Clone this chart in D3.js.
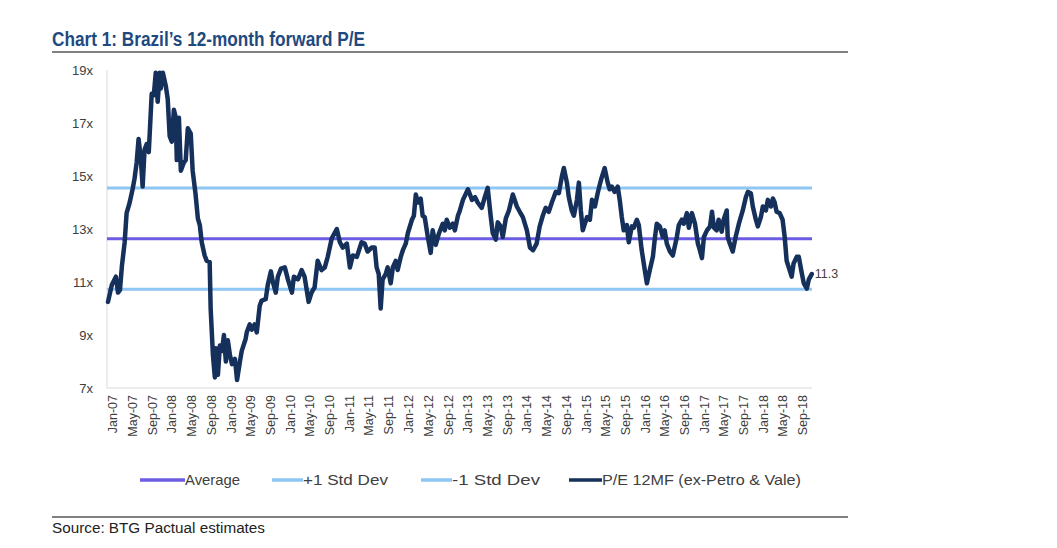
<!DOCTYPE html>
<html><head><meta charset="utf-8">
<script src="https://cdn.jsdelivr.net/npm/d3@7"></script>
<style>body{margin:0;background:#fff}svg{display:block}text{font-family:"Liberation Sans",Arial,sans-serif}</style>
</head><body>
<svg id="c" width="1057" height="548"></svg>
<script>
const dates = ["2006-12-01","2006-12-25","2007-01-19","2007-02-01","2007-02-13","2007-02-25","2007-03-14","2007-03-26","2007-04-14","2007-05-02","2007-05-14","2007-05-27","2007-06-08","2007-06-21","2007-07-03","2007-07-15","2007-07-28","2007-08-10","2007-08-28","2007-09-10","2007-09-22","2007-10-04","2007-10-17","2007-10-23","2007-11-05","2007-11-23","2007-12-05","2007-12-17","2007-12-30","2008-01-12","2008-01-24","2008-01-30","2008-02-12","2008-02-24","2008-03-13","2008-03-25","2008-04-07","2008-04-25","2008-05-07","2008-05-25","2008-06-08","2008-06-20","2008-07-02","2008-07-20","2008-08-02","2008-08-20","2008-08-26","2008-09-09","2008-09-21","2008-09-27","2008-10-10","2008-10-22","2008-11-04","2008-11-16","2008-11-28","2008-12-10","2008-12-23","2009-01-05","2009-01-23","2009-02-05","2009-02-23","2009-03-06","2009-03-30","2009-04-06","2009-04-24","2009-05-07","2009-05-25","2009-06-07","2009-06-25","2009-07-07","2009-08-01","2009-08-14","2009-09-02","2009-09-14","2009-10-02","2009-10-15","2009-11-03","2009-11-27","2009-12-16","2010-01-10","2010-01-22","2010-02-16","2010-03-11","2010-03-29","2010-04-23","2010-05-11","2010-05-30","2010-06-18","2010-07-12","2010-08-01","2010-08-19","2010-09-13","2010-10-14","2010-11-02","2010-11-20","2010-12-15","2011-01-03","2011-01-21","2011-02-15","2011-03-16","2011-04-04","2011-04-22","2011-05-17","2011-06-05","2011-06-17","2011-06-30","2011-07-12","2011-07-24","2011-08-12","2011-08-24","2011-09-12","2011-09-25","2011-10-13","2011-10-25","2011-11-13","2011-11-26","2011-12-14","2011-12-27","2012-01-21","2012-02-02","2012-02-14","2012-02-27","2012-03-15","2012-03-27","2012-04-09","2012-04-28","2012-05-16","2012-05-28","2012-06-16","2012-07-04","2012-07-29","2012-08-11","2012-08-23","2012-09-11","2012-09-30","2012-10-12","2012-10-31","2012-11-12","2012-12-01","2013-01-01","2013-01-26","2013-02-14","2013-03-02","2013-03-27","2013-04-15","2013-05-03","2013-05-22","2013-06-03","2013-06-22","2013-07-04","2013-07-22","2013-08-04","2013-08-23","2013-09-11","2013-10-05","2013-10-30","2013-11-17","2013-12-06","2013-12-31","2014-01-19","2014-02-07","2014-03-01","2014-03-20","2014-04-08","2014-04-26","2014-05-15","2014-06-03","2014-06-27","2014-07-16","2014-08-03","2014-08-16","2014-09-04","2014-09-16","2014-10-04","2014-10-17","2014-11-05","2014-11-17","2014-11-29","2014-12-11","2015-01-06","2015-01-24","2015-02-06","2015-02-24","2015-03-13","2015-03-25","2015-04-07","2015-04-25","2015-05-14","2015-05-26","2015-06-08","2015-06-26","2015-07-15","2015-07-27","2015-08-09","2015-08-21","2015-09-09","2015-09-21","2015-10-10","2015-10-22","2015-11-10","2015-11-22","2015-12-10","2015-12-29","2016-01-11","2016-01-29","2016-02-17","2016-03-01","2016-03-12","2016-03-31","2016-04-18","2016-04-30","2016-05-13","2016-06-01","2016-06-19","2016-07-14","2016-07-26","2016-08-14","2016-08-26","2016-09-14","2016-09-26","2016-10-15","2016-11-03","2016-11-21","2016-12-03","2016-12-16","2016-12-28","2017-01-16","2017-02-04","2017-02-16","2017-02-28","2017-03-17","2017-03-29","2017-04-17","2017-04-29","2017-05-18","2017-05-24","2017-06-06","2017-06-24","2017-07-12","2017-08-01","2017-08-25","2017-09-13","2017-09-25","2017-10-14","2017-10-26","2017-11-14","2017-11-26","2017-12-15","2017-12-27","2018-01-15","2018-01-27","2018-02-15","2018-02-27","2018-03-10","2018-03-22","2018-04-10","2018-04-28","2018-05-11","2018-05-23","2018-06-05","2018-06-23","2018-07-05","2018-07-24","2018-08-06","2018-08-24","2018-09-06","2018-09-25","2018-10-07","2018-10-25"];
const pe = [10.25,10.9,11.2,10.6,10.7,11.6,12.5,13.6,14.0,14.5,14.9,15.5,16.4,15.7,14.6,16.0,16.2,15.9,18.1,18.05,18.9,17.8,18.9,18.3,18.9,18.4,17.9,16.5,16.3,17.5,17.2,15.6,17.2,15.2,15.5,15.6,16.8,16.6,15.2,14.3,13.4,13.15,12.5,12.0,11.8,11.75,10.0,8.25,7.4,8.5,7.5,8.6,8.4,9.0,8.0,8.8,8.25,7.9,8.1,7.3,8.0,8.4,8.85,9.1,9.4,9.2,9.4,9.1,10.1,10.3,10.35,10.9,11.4,11.0,10.6,11.2,11.5,11.55,11.1,10.6,11.2,11.1,11.45,11.2,10.25,10.6,10.8,11.8,11.45,11.55,11.95,12.65,13.0,12.5,12.3,12.45,11.55,12.0,11.95,12.5,12.45,12.15,12.3,12.3,11.55,11.3,10.0,11.1,11.3,11.55,10.95,11.55,11.8,11.45,11.95,12.2,12.45,12.85,13.35,13.5,14.3,14.0,14.15,13.5,13.45,12.7,12.1,12.95,12.4,12.8,13.2,12.95,13.35,13.05,13.2,12.95,13.5,13.7,14.1,14.5,14.1,14.2,14.0,13.8,14.2,14.55,13.45,12.85,12.6,13.25,13.1,12.7,13.4,13.7,14.3,13.85,13.65,13.45,12.95,12.3,12.2,12.45,13.1,13.5,13.8,13.65,14.0,14.4,14.35,14.95,15.3,14.75,14.2,13.7,13.5,14.1,14.75,13.7,12.95,13.45,13.35,14.1,13.85,14.35,14.65,14.95,15.3,14.75,14.5,14.6,14.4,14.6,14.1,13.45,12.95,13.15,12.5,13.1,13.05,13.35,13.15,12.2,11.45,10.95,11.45,11.95,12.7,13.2,13.1,12.7,12.95,12.45,12.15,12.0,12.7,13.15,13.35,13.2,13.6,13.05,13.6,13.2,12.45,12.2,11.9,12.7,12.95,13.1,13.65,13.05,12.95,13.35,12.9,13.35,13.7,12.7,12.45,12.15,12.7,13.2,13.7,14.2,14.4,14.35,13.85,13.35,13.1,13.45,13.85,13.7,14.1,13.85,14.15,14.0,13.65,13.6,13.35,12.7,11.8,11.55,11.2,11.7,11.95,11.95,11.35,10.95,10.75,11.1,11.3];
const refNames = ["Average","+1 Std Dev","-1 Std Dev"];
const refValues = [12.63,14.55,10.73];
const yTicks = [7,9,11,13,15,17,19];
const tickLabels = ["Jan-07","May-07","Sep-07","Jan-08","May-08","Sep-08","Jan-09","May-09","Sep-09","Jan-10","May-10","Sep-10","Jan-11","May-11","Sep-11","Jan-12","May-12","Sep-12","Jan-13","May-13","Sep-13","Jan-14","May-14","Sep-14","Jan-15","May-15","Sep-15","Jan-16","May-16","Sep-16","Jan-17","May-17","Sep-17","Jan-18","May-18","Sep-18"];
const legendLabels = ["Average","+1 Std Dev","-1 Std Dev","P/E 12MF (ex-Petro & Vale)"];
const endLabel = "11.3";

const colors = {avg:"#6b5ce3", sd:"#8ec6f4", pe:"#15305a", txt:"#404040"};
const svg = d3.select("#c");
const parse = d3.timeParse("%Y-%m-%d");
const monthParse = d3.timeParse("%b-%y");
const data = dates.map((d,i)=>({d:parse(d), v:pe[i]}));

const x = d3.scaleTime().domain([parse("2007-01-01"), parse("2018-09-01")]).range([113, 803]);
const y = d3.scaleLinear().domain([7,19]).range([388,70]);
const L = 107, R = 812;

// title
svg.append("text").attr("x",52).attr("y",46).attr("font-size",19.5).attr("font-weight","bold")
  .attr("fill","#1f4a80").attr("textLength",313).attr("lengthAdjust","spacingAndGlyphs")
  .text("Chart 1: Brazil\u2019s 12-month forward P/E");
svg.append("line").attr("x1",52).attr("x2",848).attr("y1",52).attr("y2",52).attr("stroke","#808080").attr("stroke-width",2);

// axes lines
svg.append("line").attr("x1",L).attr("x2",L).attr("y1",70).attr("y2",388).attr("stroke","#d9d9d9").attr("stroke-width",1);
svg.append("line").attr("x1",L).attr("x2",R).attr("y1",388).attr("y2",388).attr("stroke","#d9d9d9").attr("stroke-width",1);

// y labels
svg.append("g").selectAll("text").data(yTicks).join("text")
  .attr("x",93).attr("y",d=>y(d)).attr("dy","0.35em").attr("text-anchor","end")
  .attr("font-size",13).attr("fill",colors.txt).text(d=>d+"x");

// x labels
svg.append("g").selectAll("text").data(tickLabels).join("text")
  .attr("transform",d=>`translate(${x(monthParse(d))},395) rotate(-90)`)
  .attr("dy","0.35em").attr("text-anchor","end").attr("font-size",12.5).attr("fill",colors.txt).text(d=>d);

// reference lines
const refColors = [colors.avg, colors.sd, colors.sd];
svg.append("g").selectAll("line").data(refValues).join("line")
  .attr("x1",L).attr("x2",R).attr("y1",d=>y(d)).attr("y2",d=>y(d))
  .attr("stroke",(d,i)=>refColors[i]).attr("stroke-width",3);

// PE line
const line = d3.line().x(d=>x(d.d)).y(d=>y(d.v));
svg.append("path").datum(data).attr("d",line).attr("fill","none").attr("stroke",colors.pe)
  .attr("stroke-width",4.5).attr("stroke-linejoin","round").attr("stroke-linecap","round");

// end label
const last = data[data.length-1];
svg.append("text").attr("x",x(last.d)+3).attr("y",y(last.v)).attr("dy","0.35em")
  .attr("font-size",12.5).attr("fill",colors.txt).text(endLabel);

// legend
const legX = [140,272,421,569], legLineW = [45,31,31,33], legTextW = [55,85,88,199];
const legColors = [colors.avg, colors.sd, colors.sd, colors.pe];
const lg = svg.append("g");
legendLabels.forEach((t,i)=>{
  lg.append("line").attr("x1",legX[i]).attr("x2",legX[i]+legLineW[i]).attr("y1",480).attr("y2",480)
    .attr("stroke",legColors[i]).attr("stroke-width",3.5);
  lg.append("text").attr("x",legX[i]+legLineW[i]).attr("y",480).attr("dy","0.35em").attr("font-size",15)
    .attr("fill",colors.txt).attr("textLength",legTextW[i]).attr("lengthAdjust","spacingAndGlyphs").text(t);
});

// footer
svg.append("line").attr("x1",52).attr("x2",848).attr("y1",517).attr("y2",517).attr("stroke","#808080").attr("stroke-width",2);
svg.append("text").attr("x",52).attr("y",533).attr("font-size",14).attr("fill","#222")
  .attr("textLength",213).attr("lengthAdjust","spacingAndGlyphs").text("Source: BTG Pactual estimates");
</script>
</body></html>
